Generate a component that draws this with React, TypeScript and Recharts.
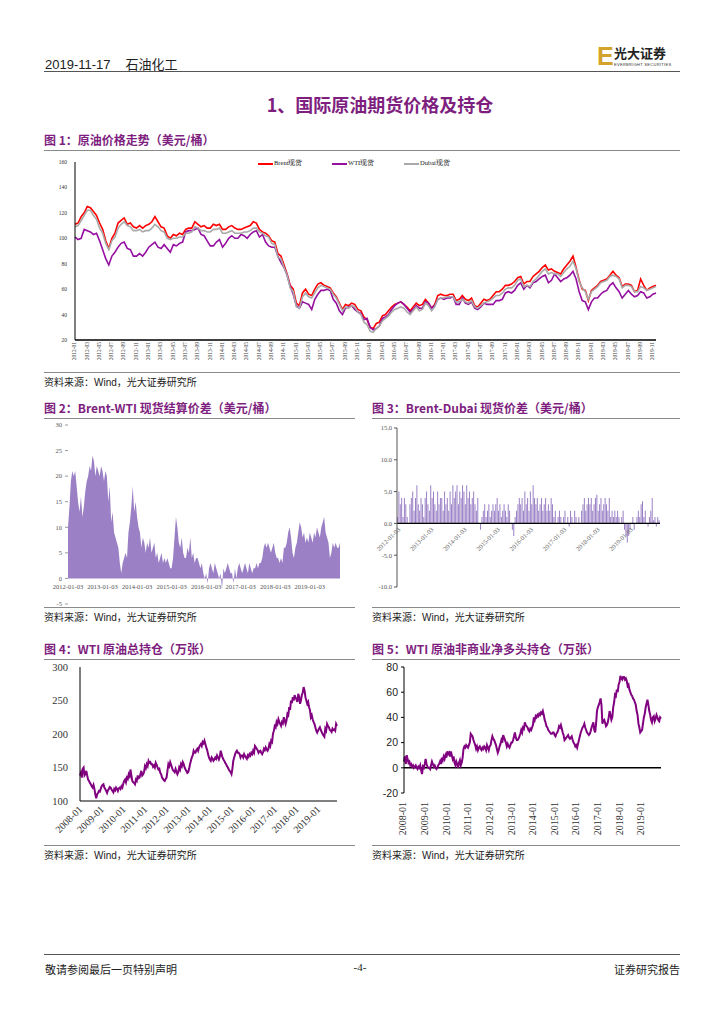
import React from "react";
import {
  LineChart, Line, AreaChart, Area, BarChart, Bar,
  XAxis, YAxis, ReferenceLine,
} from "recharts";

const PURPLE = "#7e1f80";
const SERIF = '"Liberation Serif", "Times New Roman", serif';
const SANS = '"Liberation Sans", Arial, sans-serif';
const CJK = '"Noto Sans CJK SC", sans-serif';

// two points per month, first one carries the month label
const halfMonths = (y0: number, y1: number, lastMonth: number) => {
  const out: string[] = [];
  for (let y = y0; y <= y1; y++) {
    for (let m = 1; m <= (y === y1 ? lastMonth : 12); m++) {
      const mm = String(m).padStart(2, "0");
      out.push(`${y}-${mm}`, `${y}-${mm}-16`);
    }
  }
  return out;
};

const PRICE_DATES = halfMonths(2012, 2019, 11);
const POS_DATES = halfMonths(2008, 2019, 11);

// Fig 1 prices, USD/bbl
const BRENT = [
  111, 112, 117, 120, 125, 124, 121, 118, 112, 107, 98, 92, 100, 104, 112, 114, 116, 111, 112, 109, 108, 110, 108, 110,
  111, 113, 117, 113, 109, 108, 102, 100, 103, 102, 104, 103, 107, 108, 108, 113, 111, 109, 110, 108, 108, 111, 110, 111,
  107, 107, 109, 110, 108, 107, 107, 108, 109, 110, 113, 112, 107, 105, 104, 102, 98, 97, 88, 86, 79, 72, 63, 60,
  49, 47, 57, 60, 56, 55, 60, 64, 65, 63, 62, 61, 57, 54, 49, 44, 48, 47, 49, 48, 44, 43, 38, 36,
  30, 29, 33, 34, 39, 40, 43, 46, 48, 49, 50, 48, 46, 43, 46, 49, 47, 48, 52, 49, 45, 48, 55, 56,
  55, 55, 56, 56, 51, 52, 55, 52, 51, 53, 47, 46, 49, 52, 51, 52, 55, 58, 58, 60, 63, 63, 64, 66,
  69, 70, 64, 66, 66, 70, 72, 74, 77, 79, 75, 76, 74, 73, 72, 76, 79, 82, 86, 77, 67, 60, 59, 51,
  59, 61, 63, 66, 67, 68, 71, 74, 71, 69, 62, 64, 64, 63, 58, 59, 68, 63, 59, 61, 62, 63,
];
const WTI = [
  101, 99, 100, 107, 106, 105, 103, 104, 98, 91, 84, 79, 86, 89, 93, 96, 97, 92, 91, 86, 86, 88, 86, 89,
  93, 95, 97, 93, 92, 95, 92, 89, 95, 94, 96, 97, 105, 106, 106, 107, 108, 103, 102, 98, 94, 94, 97, 99,
  93, 96, 100, 102, 100, 100, 103, 102, 100, 103, 105, 106, 101, 103, 97, 94, 93, 93, 86, 81, 77, 71, 62, 56,
  47, 45, 50, 49, 48, 44, 52, 56, 59, 59, 60, 59, 52, 49, 43, 40, 45, 46, 47, 44, 42, 41, 36, 37,
  30, 28, 29, 31, 37, 38, 40, 44, 47, 49, 50, 48, 45, 42, 44, 47, 45, 45, 50, 49, 45, 47, 52, 53,
  52, 53, 53, 54, 48, 48, 53, 49, 48, 50, 45, 44, 46, 49, 48, 48, 48, 51, 51, 52, 57, 58, 57, 59,
  63, 65, 60, 63, 61, 65, 66, 68, 70, 71, 65, 67, 72, 69, 66, 68, 69, 71, 74, 68, 58, 51, 50, 44,
  50, 53, 53, 56, 58, 59, 63, 65, 61, 58, 53, 56, 59, 56, 54, 55, 58, 57, 53, 54, 56, 57,
];
const DUBAI = [
  109, 110, 114, 118, 122, 122, 118, 115, 108, 104, 96, 91, 98, 101, 108, 111, 113, 110, 109, 106, 106, 107, 105, 106,
  106, 108, 111, 109, 106, 105, 100, 99, 100, 100, 101, 101, 104, 104, 105, 109, 108, 106, 106, 105, 105, 107, 107, 108,
  104, 104, 105, 106, 104, 104, 104, 105, 105, 106, 108, 108, 105, 104, 102, 101, 96, 95, 85, 84, 77, 71, 61, 58,
  46, 45, 54, 57, 54, 53, 57, 61, 63, 62, 61, 60, 56, 53, 48, 43, 46, 45, 47, 46, 42, 40, 34, 32,
  27, 26, 29, 31, 35, 37, 39, 42, 44, 45, 46, 45, 42, 40, 43, 46, 43, 44, 49, 47, 43, 46, 52, 53,
  53, 54, 54, 54, 50, 50, 52, 50, 49, 51, 46, 45, 47, 49, 50, 51, 53, 55, 55, 57, 60, 61, 61, 63,
  67, 68, 62, 63, 62, 66, 68, 71, 74, 76, 72, 73, 72, 72, 70, 73, 76, 78, 82, 76, 66, 61, 58, 52,
  58, 60, 62, 65, 66, 67, 70, 71, 70, 68, 61, 63, 63, 62, 58, 58, 62, 61, 59, 60, 61, 62,
];

// Fig 2 Brent-WTI spread
const BRENT_WTI = [
  10, 14, 19, 21, 20, 21, 18, 15, 13, 16, 12, 14, 17, 19, 20, 22, 21, 24, 23, 20, 22, 21, 20, 22,
  21, 19, 21, 20, 15, 18, 11, 13, 9, 8, 7, 6, 3, 1, 3, 4, 5, 4, 9, 11, 14, 18, 13, 15,
  12, 10, 9, 6, 8, 7, 5, 7, 6, 8, 5, 6, 7, 4, 5, 3, 4, 5, 3, 4, 3, 4, 3, 2,
  2, 4, 8, 12, 10, 7, 6, 8, 5, 4, 4, 6, 5, 8, 4, 5, 3, 4, 4, 3, 2, 3, 1, 0,
  1, -1, 2, 3, 2, 1, 3, 2, 1, 0, 1, -2, 2, 1, 2, 3, 2, 1, 1, -1, 2, 0, 2, 3,
  2, 1, 2, 3, 2, 1, 3, 2, 1, 2, 2, 3, 2, 3, 3, 4, 6, 7, 6, 7, 6, 5, 6, 7,
  5, 4, 4, 3, 4, 3, 6, 6, 7, 9, 10, 8, 5, 4, 6, 7, 9, 11, 10, 8, 9, 7, 8, 7,
  9, 8, 7, 9, 8, 10, 9, 8, 10, 11, 12, 9, 8, 7, 4, 5, 7, 6, 7, 6, 6, 7,
];

// Fig 3 Brent-Dubai spread
const BRENT_DUBAI = [
  1, 5, 3, 4, 1, 4, 3, 1, 0, 3, 4, 5, 2, 4, 6, 3, 2, 4, 3, 1, 4, 5, 3, 2,
  6, 4, 5, 3, 2, 5, 3, 4, 4, 2, 5, 3, 4, 2, 5, 3, 6, 4, 5, 6, 3, 5, 4, 6,
  5, 3, 6, 4, 5, 3, 4, 5, 3, 2, 4, 0, -1, 1, 2, 3, 1, 2, 3, 1, 2, 3, 2, 3,
  4, 2, 3, 1, 2, 3, 2, 1, 3, 2, 0, -1, -2, 1, 2, 3, 4, 3, 4, 2, 5, 3, 4, 2,
  5, 3, 6, 4, 3, 4, 2, 3, 4, 2, 3, 4, 2, 3, 2, 4, 3, 1, 2, 0, 1, 2, 1, 0,
  1, 2, 0, 1, -0.5, 2, 1, 0, 2, 1, 0, 1, 0, 2, 3, 4, 2, 3, 4, 3, 4, 2, 3, 4,
  4.5, 2, 3, 4, 2, 3, 4, 3, 2, 4, 1, 2, 1, 2, 1, 2, 1, 0, 1, 2, -1, -2, -3, -2,
  -1, 0, 1, -1, 0, 1, 2, 1, 3, 3.5, 1, 2, 0, -0.5, 1, 2, 4, 0.5, 1, -0.5, 1, 0.5,
];

// Fig 4 WTI open interest (10k contracts)
const WTI_OI = [
  138, 142, 135, 148, 150, 138, 140, 145, 138, 132, 130, 127, 125, 122, 120, 124, 118, 110, 104, 110, 112, 115, 114, 118,
  122, 124, 125, 120, 118, 115, 112, 116, 118, 121, 120, 117, 115, 113, 118, 116, 120, 118, 115, 119, 120, 118, 122, 120,
  126, 130, 132, 128, 135, 133, 140, 137, 147, 138, 130, 128, 127, 125, 132, 130, 138, 134, 135, 140, 145, 138, 140, 143,
  152, 149, 155, 152, 160, 157, 158, 155, 155, 151, 153, 150, 157, 154, 150, 147, 148, 142, 140, 135, 133, 131, 130, 133,
  135, 145, 155, 152, 158, 154, 150, 146, 145, 143, 148, 144, 140, 143, 150, 147, 155, 152, 158, 155, 150, 147, 145, 142,
  143, 148, 155, 160, 165, 168, 175, 172, 172, 176, 178, 175, 180, 183, 185, 182, 188, 186, 190, 185, 180, 176, 170, 165,
  162, 160, 165, 163, 160, 162, 165, 163, 168, 165, 162, 166, 175, 170, 165, 162, 160, 157, 155, 152, 150, 147, 145, 143,
  140, 148, 160, 165, 170, 173, 175, 172, 172, 170, 165, 168, 168, 165, 170, 167, 165, 163, 168, 166, 170, 168, 172, 170,
  175, 172, 182, 180, 178, 176, 172, 174, 175, 172, 170, 173, 178, 176, 180, 177, 175, 178, 185, 182, 190, 188, 200, 205,
  212, 210, 218, 215, 222, 218, 215, 212, 218, 216, 225, 220, 215, 220, 230, 228, 240, 236, 250, 246, 255, 250, 258, 254,
  252, 248, 260, 256, 245, 250, 258, 262, 270, 265, 255, 250, 245, 248, 240, 236, 225, 228, 222, 218, 215, 210, 205, 202,
  205, 208, 210, 206, 203, 200, 198, 196, 208, 205, 215, 212, 210, 206, 205, 203, 208, 206, 207, 205, 215, 212,
];

// Fig 5 WTI non-commercial net long (10k contracts)
const WTI_NET = [
  5, 9, 3, 10, 7, 4, 5, 2, 3, 1, 2, 0, 1, 2, 0, -1, 1, 0, 2, -2, -5, 1, 0, 3,
  7, 3, 1, 0, 0, -1, 2, 5, 3, 1, 2, 0, -1, 0, 2, 3, 5, 3, 8, 6, 9, 7, 10, 8,
  13, 11, 12, 9, 13, 10, 7, 9, 4, 2, 5, 3, 0, 4, 6, 2, 4, 8, 15, 17, 16, 18, 17, 16,
  18, 20, 27, 26, 25, 22, 20, 18, 15, 17, 14, 16, 17, 15, 14, 16, 15, 17, 16, 14, 18, 16, 14, 17,
  18, 22, 25, 23, 22, 20, 18, 15, 12, 14, 17, 19, 22, 20, 26, 24, 22, 20, 17, 19, 17, 16, 18, 20,
  20, 22, 25, 28, 24, 22, 22, 23, 25, 27, 30, 28, 32, 31, 36, 34, 33, 32, 30, 29, 31, 30, 32, 34,
  40, 38, 41, 40, 42, 41, 43, 42, 44, 43, 45, 42, 38, 36, 33, 32, 30, 29, 28, 27, 27, 28, 28, 26,
  25, 27, 28, 30, 33, 32, 34, 31, 28, 26, 22, 23, 24, 25, 26, 24, 23, 24, 25, 22, 20, 19, 17, 18,
  16, 19, 22, 25, 28, 30, 32, 33, 35, 32, 30, 28, 27, 26, 27, 29, 32, 34, 36, 30, 28, 35, 45, 48,
  50, 52, 55, 50, 35, 37, 38, 36, 33, 34, 36, 40, 45, 42, 38, 40, 48, 52, 58, 57, 62, 60, 66, 68,
  73, 71, 70, 72, 72, 70, 71, 69, 65, 66, 62, 60, 58, 57, 55, 54, 52, 50, 45, 42, 35, 32, 28, 29,
  30, 35, 40, 43, 48, 51, 54, 50, 45, 42, 38, 36, 40, 41, 37, 39, 42, 40, 38, 37, 40, 39,
];

const priceData = PRICE_DATES.map((date, i) => ({
  date, brent: BRENT[i], wti: WTI[i], dubai: DUBAI[i],
}));
const bwData = PRICE_DATES.map((date, i) => ({ date, v: BRENT_WTI[i] }));
const bdData = PRICE_DATES.map((date, i) => ({ date, v: BRENT_DUBAI[i] }));
const oiData = POS_DATES.map((date, i) => ({ date, v: WTI_OI[i] }));
const netData = POS_DATES.map((date, i) => ({ date, v: WTI_NET[i] }));

const SPREAD_FILL = "#9b80c6";
const LINE_PURPLE = "#800080";

// tiny vertical labels under fig 1
const PriceTick = ({ x, y, payload }: any) => (
  <text transform={`translate(${x},${y + 2}) rotate(-90)`} textAnchor="end"
    dominantBaseline="middle" fontSize={5.5} fill="#444" fontFamily={SERIF}>
    {payload.value}
  </text>
);

// fig 2 labels sit just under the zero line
const BwTick = ({ x, y, payload }: any) => (
  <text x={x} y={y - 15} textAnchor="middle" fontSize={6.5} fill="#555" fontFamily={SERIF}>
    {`${payload.value}-03`}
  </text>
);

const BdTick = ({ x, y, payload }: any) => (
  <text transform={`translate(${x + 3},${y - 57}) rotate(-45)`} textAnchor="end"
    fontSize={6.5} fill="#666" fontFamily={SERIF}>
    {`${payload.value}-03`}
  </text>
);

const DiagTick = ({ x, y, payload }: any) => (
  <text transform={`translate(${x + 3},${y + 9}) rotate(-45)`} textAnchor="end"
    fontSize={10} fill="#333" fontFamily={SERIF}>
    {payload.value}
  </text>
);

const VertTick = ({ x, y, payload }: any) => (
  <text transform={`translate(${x},${y + 9}) rotate(-90)`} textAnchor="end"
    dominantBaseline="middle" fontSize={10} fill="#333" fontFamily={SERIF}>
    {payload.value}
  </text>
);

function FigTitle({ x, y, w, text }: { x: number; y: number; w: number; text: string }) {
  return (
    <div style={{
      position: "absolute", left: x, top: y, width: w, borderBottom: "1.5px solid #8a8a8a",
      paddingBottom: 2, fontFamily: CJK, fontWeight: 700, fontSize: 12, lineHeight: "16px",
      color: PURPLE, whiteSpace: "nowrap",
    }}>
      {text}
    </div>
  );
}

function Source({ x, y, w }: { x: number; y: number; w: number }) {
  return (
    <div style={{
      position: "absolute", left: x, top: y, width: w, borderTop: "1.5px solid #8a8a8a",
      paddingTop: 2, fontFamily: CJK, fontSize: 10, lineHeight: "14px", color: "#222",
    }}>
      资料来源：<span style={{ fontFamily: SANS }}>Wind</span>，光大证券研究所
    </div>
  );
}

function LegendItem({ x, color, label }: { x: number; color: string; label: string }) {
  return (
    <div style={{ position: "absolute", left: x, top: 159, display: "flex", alignItems: "center",
      fontFamily: SERIF, fontSize: 6.5, color: "#222" }}>
      <span style={{ display: "inline-block", width: 15, height: 2, background: color, marginRight: 1 }} />
      {label}
    </div>
  );
}

export default function App() {
  return (
    <div style={{ position: "absolute", left: 0, top: 0, width: 724, height: 1024, background: "#fff", overflow: "hidden" }}>
      {/* page header */}
      <div style={{ position: "absolute", left: 45, top: 54, fontFamily: SANS, fontSize: 13, color: "#222" }}>
        2019-11-17<span style={{ fontFamily: CJK, marginLeft: 15 }}>石油化工</span>
      </div>
      <div style={{ position: "absolute", left: 597, top: 42, fontFamily: SANS, fontWeight: 700, fontSize: 25, color: "#d3a32c" }}>E</div>
      <div style={{ position: "absolute", left: 614, top: 46, fontFamily: CJK, fontWeight: 700, fontSize: 13, lineHeight: "14px", color: "#222" }}>光大证券</div>
      <div style={{ position: "absolute", left: 614, top: 62, fontFamily: SANS, fontSize: 4, color: "#333", letterSpacing: 0.3 }}>EVERBRIGHT SECURITIES</div>
      <div style={{ position: "absolute", left: 44, top: 71, width: 636, borderTop: "1.5px solid #555" }} />

      <div style={{ position: "absolute", left: 0, width: 724, top: 91, textAlign: "center", paddingLeft: 36,
        boxSizing: "border-box", fontFamily: CJK, fontWeight: 700, fontSize: 18, color: PURPLE }}>
        1、国际原油期货价格及持仓
      </div>

      {/* Fig 1 */}
      <FigTitle x={44} y={132} w={636} text="图 1：原油价格走势（美元/桶）" />
      <div style={{ position: "absolute", left: 40, top: 150 }}>
        <LineChart width={630} height={230} data={priceData} margin={{ top: 12, right: 14, bottom: 10, left: 10 }}>
          <XAxis dataKey="date" interval={3} height={30} tickLine={false} tickSize={0} tickMargin={0}
            axisLine={{ stroke: "#000", strokeWidth: 1.5 }} tick={<PriceTick />} />
          <YAxis domain={[20, 160]} ticks={[20, 40, 60, 80, 100, 120, 140, 160]} width={25}
            tickLine={false} axisLine={{ stroke: "#000" }}
            tick={{ fontSize: 5.5, fill: "#333", fontFamily: SERIF }} />
          <Line dataKey="brent" stroke="#ff0000" strokeWidth={1.6} dot={false} isAnimationActive={false} />
          <Line dataKey="wti" stroke="#9510a0" strokeWidth={1.6} dot={false} isAnimationActive={false} />
          <Line dataKey="dubai" stroke="#a9a9a9" strokeWidth={1.6} dot={false} isAnimationActive={false} />
        </LineChart>
      </div>
      <LegendItem x={258} color="#ff0000" label="Brent现货" />
      <LegendItem x={332} color="#9510a0" label="WTI现货" />
      <LegendItem x={404} color="#a9a9a9" label="Dubai现货" />
      <Source x={44} y={372} w={636} />

      {/* Fig 2 */}
      <FigTitle x={44} y={400} w={311} text="图 2：Brent-WTI 现货结算价差（美元/桶）" />
      <div style={{ position: "absolute", left: 40, top: 415 }}>
        <AreaChart width={310} height={200} data={bwData} margin={{ top: 10, right: 10, bottom: 1, left: 3 }}>
          <XAxis dataKey="date" interval={23} height={10} axisLine={false} tickLine={false}
            tickSize={0} tickMargin={0} tick={<BwTick />} />
          <YAxis domain={[-5, 30]} ticks={[-5, 0, 5, 10, 15, 20, 25, 30]} width={25} axisLine={false}
            tickLine={{ stroke: "#999" }} tickSize={3} tickMargin={3}
            tick={{ fontSize: 6.5, fill: "#555", fontFamily: SERIF }} />
          <Area type="linear" dataKey="v" stroke="none" fill={SPREAD_FILL} fillOpacity={1}
            baseValue={0} isAnimationActive={false} />
        </AreaChart>
      </div>
      <Source x={44} y={607} w={311} />

      {/* Fig 3 */}
      <FigTitle x={372} y={400} w={308} text="图 3：Brent-Dubai 现货价差（美元/桶）" />
      <div style={{ position: "absolute", left: 360, top: 418 }}>
        <BarChart width={310} height={190} data={bdData} margin={{ top: 10, right: 10, bottom: 0, left: 2 }}
          barCategoryGap={0}>
          <XAxis dataKey="date" interval={23} height={21} axisLine={false} tickLine={false}
            tickSize={0} tickMargin={0} tick={<BdTick />} />
          <YAxis domain={[-10, 15]} ticks={[-10, -5, 0, 5, 10, 15]} width={35}
            axisLine={{ stroke: "#555" }} tickLine={{ stroke: "#555" }} tickSize={3} tickMargin={2}
            tickFormatter={(v: number) => v.toFixed(1)}
            tick={{ fontSize: 6.5, fill: "#555", fontFamily: SERIF }} />
          <Bar dataKey="v" fill={SPREAD_FILL} isAnimationActive={false} />
          <ReferenceLine y={0} stroke="#000" strokeWidth={1.2} />
        </BarChart>
      </div>
      <Source x={372} y={607} w={308} />

      {/* Fig 4 */}
      <FigTitle x={44} y={641} w={311} text="图 4：WTI 原油总持仓（万张）" />
      <div style={{ position: "absolute", left: 40, top: 657 }}>
        <LineChart width={305} height={190} data={oiData} margin={{ top: 10, right: 8, bottom: 0, left: 5 }}>
          <XAxis dataKey="date" interval={23} height={46} tickLine={false} tickSize={0} tickMargin={0}
            axisLine={{ stroke: "#000" }} tick={<DiagTick />} />
          <YAxis domain={[100, 300]} ticks={[100, 150, 200, 250, 300]} width={35}
            axisLine={{ stroke: "#000" }} tickLine={false} tickSize={6} tickMargin={6}
            tick={{ fontSize: 10.5, fill: "#333", fontFamily: SERIF }} />
          <Line dataKey="v" stroke={LINE_PURPLE} strokeWidth={2} dot={false} isAnimationActive={false} />
        </LineChart>
      </div>
      <Source x={44} y={845} w={311} />

      {/* Fig 5 */}
      <FigTitle x={372} y={641} w={308} text="图 5：WTI 原油非商业净多头持仓（万张）" />
      <div style={{ position: "absolute", left: 360, top: 657 }}>
        <LineChart width={310} height={190} data={netData} margin={{ top: 10, right: 9, bottom: 0, left: 4 }}>
          <XAxis dataKey="date" interval={23} height={54} axisLine={false} tickLine={false}
            tickSize={0} tickMargin={0} tick={<VertTick />} />
          <YAxis domain={[-20, 80]} ticks={[-20, 0, 20, 40, 60, 80]} width={40}
            axisLine={{ stroke: "#000" }} tickLine={{ stroke: "#000" }} tickSize={3} tickMargin={3}
            tick={{ fontSize: 10.5, fill: "#222", fontFamily: SANS }} />
          <ReferenceLine y={0} stroke="#000" strokeWidth={1.5} />
          <Line dataKey="v" stroke={LINE_PURPLE} strokeWidth={2} dot={false} isAnimationActive={false} />
        </LineChart>
      </div>
      <Source x={372} y={845} w={308} />

      {/* footer */}
      <div style={{ position: "absolute", left: 44, top: 954, width: 636, borderTop: "1.5px solid #555" }} />
      <div style={{ position: "absolute", left: 45, top: 961, fontFamily: CJK, fontSize: 11, color: "#222" }}>敬请参阅最后一页特别声明</div>
      <div style={{ position: "absolute", left: 340, width: 40, textAlign: "center", top: 961, fontFamily: SERIF, fontSize: 11, color: "#222" }}>-4-</div>
      <div style={{ position: "absolute", right: 44, top: 961, fontFamily: CJK, fontSize: 11, color: "#222" }}>证券研究报告</div>
    </div>
  );
}
